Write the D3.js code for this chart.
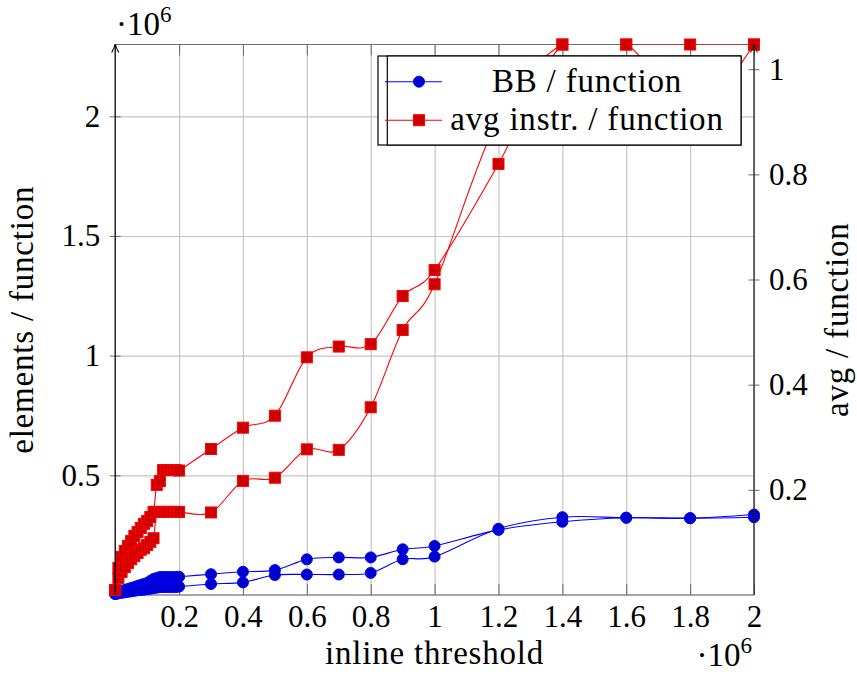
<!DOCTYPE html>
<html>
<head>
<meta charset="utf-8">
<script src="https://cdn.jsdelivr.net/npm/d3@7"></script>
<style>
  body { margin: 0; background: #fff; }
  text { font-family: "Liberation Serif", "DejaVu Serif", serif; fill: #000; }
  .word { letter-spacing: 0.8px; }
</style>
</head>
<body>
<div id="chart-area"></div>
<script>
// inline threshold values (x)
var thresholds = [0, 10000, 20000, 30000, 40000, 50000, 60000, 70000, 80000, 90000,
    100000, 110000, 120000, 130000, 140000, 150000, 160000, 170000, 180000, 190000,
    200000, 300000, 400000, 500000, 600000, 700000, 800000, 900000, 1000000,
    1200000, 1400000, 1600000, 1800000, 2000000];

// left axis series (units of 10^6)
var bbLeft = [0.004, 0.013, 0.017, 0.021, 0.025, 0.029, 0.033, 0.038, 0.042, 0.046,
    0.050, 0.059, 0.067, 0.071, 0.075, 0.075, 0.075, 0.075, 0.075, 0.075,
    0.076, 0.087, 0.097, 0.104, 0.149, 0.157, 0.157, 0.191, 0.205,
    0.272, 0.306, 0.323, 0.321, 0.325];
var instrLeft = [0.021, 0.113, 0.159, 0.184, 0.205, 0.226, 0.247, 0.263, 0.280, 0.297,
    0.309, 0.326, 0.347, 0.460, 0.476, 0.522, 0.522, 0.522, 0.522, 0.522,
    0.520, 0.610, 0.699, 0.749, 0.993, 1.038, 1.048, 1.249, 1.358,
    1.801, 2.300, 2.300, 2.300, 2.300];

// right axis series
var bbRight = [0.002, 0.003, 0.004, 0.005, 0.006, 0.007, 0.008, 0.009, 0.0095, 0.010,
    0.011, 0.012, 0.013, 0.014, 0.015, 0.015, 0.015, 0.015, 0.015, 0.015,
    0.016, 0.021, 0.024, 0.038, 0.039, 0.039, 0.042, 0.068, 0.073,
    0.126, 0.148, 0.147, 0.146, 0.153];
var instrRight = [0.0095, 0.032, 0.044, 0.053, 0.061, 0.068, 0.074, 0.080, 0.086, 0.089,
    0.095, 0.101, 0.108, 0.158, 0.158, 0.158, 0.158, 0.158, 0.158, 0.158,
    0.158, 0.157, 0.217, 0.223, 0.277, 0.276, 0.357, 0.504, 0.591,
    0.907, 1.047, 1.047, 0.92, 1.047];

var xTicks = [200000, 400000, 600000, 800000, 1000000, 1200000, 1400000, 1600000, 1800000, 2000000];
var leftTicks = [0.5, 1, 1.5, 2];
var rightTicks = [0.2, 0.4, 0.6, 0.8, 1];
var legendLabels = ["BB / function", "avg instr. / function"];

var W = 857, H = 676;
var box = {left: 115.2, right: 754, top: 44.5, bottom: 595};
var fontSize = 31, wordSize = 33;
var gridColor = "#c6c6c6", tickColor = "#6a6a6a";

var svg = d3.select("#chart-area")
    .append("svg")
        .attr("width", W)
        .attr("height", H);

var x = d3.scaleLinear().domain([0, 2000000]).range([box.left, box.right]);
var yLeft = d3.scaleLinear().domain([0, 2.3]).range([box.bottom, box.top]);
var yRight = d3.scaleLinear().domain([0, 1.047]).range([box.bottom, box.top]);

svg.append("defs").append("clipPath")
    .attr("id", "plot-clip")
    .append("rect")
        .attr("x", box.left).attr("y", box.top)
        .attr("width", box.right - box.left)
        .attr("height", box.bottom - box.top);

// grid
svg.append("g")
    .attr("transform", "translate(0," + box.bottom + ")")
    .call(d3.axisBottom(x).tickValues(xTicks).tickSize(-(box.bottom - box.top)).tickFormat(""))
    .call(g => g.select(".domain").remove())
    .selectAll("line").attr("stroke", gridColor).attr("stroke-width", 1.2);

svg.append("g")
    .attr("transform", "translate(" + box.left + ",0)")
    .call(d3.axisLeft(yLeft).tickValues(leftTicks).tickSize(-(box.right - box.left)).tickFormat(""))
    .call(g => g.select(".domain").remove())
    .selectAll("line").attr("stroke", gridColor).attr("stroke-width", 1.2);

// top / bottom frame lines
svg.append("line")
    .attr("x1", box.left).attr("x2", box.right)
    .attr("y1", box.top).attr("y2", box.top)
    .attr("stroke", "#707070").attr("stroke-width", 1.2);
svg.append("line")
    .attr("x1", box.left).attr("x2", box.right)
    .attr("y1", box.bottom).attr("y2", box.bottom)
    .attr("stroke", "#505050").attr("stroke-width", 1.2);

// x axis ticks + labels
var xAxis = svg.append("g")
    .attr("class", "x-axis")
    .attr("transform", "translate(0," + box.bottom + ")")
    .call(d3.axisBottom(x).tickValues(xTicks).tickSize(-11).tickPadding(10)
        .tickFormat(d => d3.format("~g")(d / 1e6)));
xAxis.select(".domain").remove();
xAxis.selectAll("line").attr("stroke", tickColor);
xAxis.attr("font-size", fontSize).attr("font-family", null);

svg.append("g")
    .attr("transform", "translate(0," + box.top + ")")
    .call(d3.axisTop(x).tickValues(xTicks).tickSize(-11).tickFormat(""))
    .call(g => g.select(".domain").remove())
    .selectAll("line").attr("stroke", tickColor);

// left y axis
var yAxisL = svg.append("g")
    .attr("class", "y-axis-left")
    .attr("transform", "translate(" + box.left + ",0)")
    .call(d3.axisLeft(yLeft).tickValues(leftTicks).tickSize(5.5).tickPadding(9.5)
        .tickFormat(d3.format("~g")));
yAxisL.select(".domain").remove();
yAxisL.selectAll("line").attr("x1", 5.5).attr("stroke", tickColor);
yAxisL.attr("font-size", fontSize).attr("font-family", null);

// right y axis
var yAxisR = svg.append("g")
    .attr("class", "y-axis-right")
    .attr("transform", "translate(" + box.right + ",0)")
    .call(d3.axisRight(yRight).tickValues(rightTicks).tickSize(5.5).tickPadding(9.5)
        .tickFormat(d3.format("~g")));
yAxisR.select(".domain").remove();
yAxisR.selectAll("line").attr("x1", -5.5).attr("stroke", tickColor);
yAxisR.attr("font-size", fontSize).attr("font-family", null);

// series
var series = [
    {values: bbLeft, y: yLeft, stroke: "#0000ff", fill: "#0000cc", mark: "circle"},
    {values: instrLeft, y: yLeft, stroke: "#ff0000", fill: "#cc0000", mark: "square"},
    {values: bbRight, y: yRight, stroke: "#0000ff", fill: "#0000cc", mark: "circle"},
    {values: instrRight, y: yRight, stroke: "#ff0000", fill: "#cc0000", mark: "square"}
];

function drawMarks(sel, mark, fill, stroke) {
    if (mark === "circle") {
        sel.append("circle").attr("r", 5.5);
    } else {
        sel.append("rect").attr("x", -5.5).attr("y", -5.5).attr("width", 11).attr("height", 11);
    }
    sel.selectAll("circle,rect").attr("fill", fill).attr("stroke", stroke).attr("stroke-width", 1);
}

series.forEach(function(s) {
    var pts = thresholds.map((t, i) => [t, s.values[i]]);
    var line = d3.line()
        .curve(d3.curveCardinal.tension(0))
        .x(d => x(d[0]))
        .y(d => s.y(d[1]));
    svg.append("path")
        .datum(pts)
        .attr("clip-path", "url(#plot-clip)")
        .attr("fill", "none")
        .attr("stroke", s.stroke)
        .attr("stroke-width", 1.1)
        .attr("d", line);
    var marks = svg.append("g")
        .selectAll("g")
        .data(pts)
        .enter()
        .append("g")
        .attr("transform", d => "translate(" + x(d[0]) + "," + s.y(d[1]) + ")");
    drawMarks(marks, s.mark, s.fill, s.stroke);
});

// axis lines with arrow tips
function axisLine(xpos, color) {
    svg.append("line")
        .attr("x1", xpos).attr("x2", xpos)
        .attr("y1", box.bottom).attr("y2", box.top)
        .attr("stroke", color).attr("stroke-width", 1.3);
    svg.append("path")
        .attr("d", "M" + (xpos - 3.5) + "," + (box.top + 8) + " Q" + (xpos - 0.8) + "," + (box.top + 3) + " " + xpos + "," + (box.top - 0.5)
            + " Q" + (xpos + 0.8) + "," + (box.top + 3) + " " + (xpos + 3.5) + "," + (box.top + 8))
        .attr("fill", "none").attr("stroke", color).attr("stroke-width", 1.1);
}
axisLine(box.left, "#000");
axisLine(box.right, "#222");

// scale labels (·10^6)
function sciLabel(xpos, ypos, anchor) {
    var t = svg.append("text")
        .attr("x", xpos).attr("y", ypos)
        .attr("font-size", wordSize)
        .attr("text-anchor", anchor);
    t.append("tspan").text("\u00b710");
    t.append("tspan").attr("font-size", wordSize * 0.7).attr("dy", -13).text("6");
}
sciLabel(116, 35, "start");
sciLabel(752, 666, "end");

// axis titles
svg.append("text")
    .attr("class", "word")
    .attr("x", (box.left + box.right) / 2).attr("y", 664)
    .attr("font-size", wordSize)
    .attr("text-anchor", "middle")
    .text("inline threshold");

svg.append("text")
    .attr("class", "word")
    .attr("transform", "translate(33," + (box.top + box.bottom) / 2 + ") rotate(-90)")
    .attr("font-size", wordSize)
    .attr("text-anchor", "middle")
    .text("elements / function");

svg.append("text")
    .attr("class", "word")
    .attr("transform", "translate(848," + (box.top + box.bottom) / 2 + ") rotate(-90)")
    .attr("font-size", wordSize)
    .attr("text-anchor", "middle")
    .text("avg / function");

// legend (two overlaid legend boxes, as in the original)
var legend = svg.append("g").attr("class", "legend");
legend.append("rect")
    .attr("x", 378).attr("y", 56).attr("width", 741 - 378).attr("height", 89)
    .attr("fill", "#fff").attr("stroke", "#000").attr("stroke-width", 1.2);
legend.append("rect")
    .attr("x", 387.3).attr("y", 56).attr("width", 741 - 387.3).attr("height", 89)
    .attr("fill", "#fff").attr("stroke", "#000").attr("stroke-width", 1.2);

var legendItems = [
    {label: legendLabels[0], stroke: "#0000ff", fill: "#0000cc", mark: "circle"},
    {label: legendLabels[1], stroke: "#ff0000", fill: "#cc0000", mark: "square"}
];
legendItems.forEach(function(d, i) {
    var cy = 81.7 + i * 38.5;
    legend.append("line")
        .attr("x1", 385).attr("x2", 442)
        .attr("y1", cy).attr("y2", cy)
        .attr("stroke", d.stroke).attr("stroke-width", 1.1);
    var m = legend.append("g").attr("transform", "translate(419," + cy + ")");
    drawMarks(m, d.mark, d.fill, d.stroke);
    legend.append("text")
        .attr("class", "word")
        .attr("x", 587).attr("y", cy + 10)
        .attr("font-size", wordSize)
        .attr("text-anchor", "middle")
        .text(d.label);
});
</script>
</body>
</html>
